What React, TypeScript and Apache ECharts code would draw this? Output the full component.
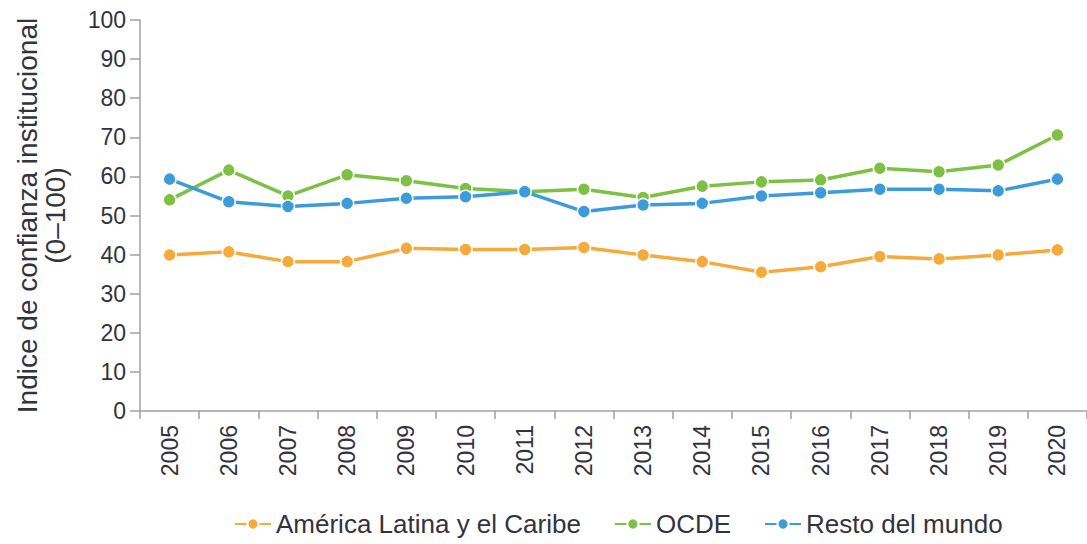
import React, { useEffect, useRef } from "react";
import * as echarts from "echarts";

const years = ["2005","2006","2007","2008","2009","2010","2011","2012","2013","2014","2015","2016","2017","2018","2019","2020"];
const latam = [39.9, 40.7, 38.2, 38.2, 41.6, 41.3, 41.3, 41.8, 39.9, 38.2, 35.5, 36.9, 39.5, 38.9, 39.9, 41.2];
const ocde = [54.0, 61.6, 55.0, 60.4, 58.9, 56.9, 56.1, 56.7, 54.6, 57.5, 58.6, 59.1, 62.1, 61.2, 62.9, 70.6];
const resto = [59.3, 53.5, 52.3, 53.1, 54.4, 54.8, 56.1, 51.0, 52.7, 53.1, 55.0, 55.8, 56.7, 56.7, 56.3, 59.3];
const seriesNames = ["América Latina y el Caribe", "OCDE", "Resto del mundo"];
const colors = ["#F5AA3B", "#7CC143", "#3B9BDB"];

const FONT = "'Liberation Sans', Arial, sans-serif";
const TXT = "#333340";

export default function App() {
  const ref = useRef<HTMLDivElement>(null);
  useEffect(() => {
    if (!ref.current) return;
    const chart = echarts.init(ref.current, null, { renderer: "svg" });
    const mk = (name: string, data: number[], color: string, z: number) => ({
      name,
      type: "line",
      data,
      z,
      symbol: "circle",
      symbolSize: 13,
      lineStyle: { color, width: 3.5 },
      itemStyle: { color, borderColor: "#fff", borderWidth: 1.5 },
    });
    chart.setOption({
      animation: false,
      textStyle: { fontFamily: FONT },
      grid: { left: 140, top: 20, bottom: 133, width: 952 },
      legend: {
        bottom: 2,
        left: 229,
        itemGap: 33,
        itemWidth: 36,
        itemHeight: 14,
        textStyle: { fontFamily: FONT, fontSize: 26, color: TXT },
        data: seriesNames,
      },
      xAxis: {
        type: "category",
        data: years,
        boundaryGap: true,
        axisLine: { lineStyle: { color: "#a0a0a0", width: 1.5 } },
        axisTick: { show: true, length: 8, lineStyle: { color: "#a0a0a0", width: 1.5 } },
        axisLabel: { rotate: 90, fontSize: 23, color: TXT, fontFamily: FONT, margin: 14 },
      },
      yAxis: {
        type: "value",
        min: 0,
        max: 100,
        interval: 10,
        splitLine: { show: false },
        axisLine: { show: true, lineStyle: { color: "#a0a0a0", width: 1.5 } },
        axisTick: { show: true, length: 10, lineStyle: { color: "#a0a0a0", width: 1.5 } },
        axisLabel: { fontSize: 23, color: TXT, fontFamily: FONT, margin: 14 },
        name: "Indice de confianza institucional\n(0–100)",
        nameLocation: "middle",
        nameGap: 71,
        nameTextStyle: { fontSize: 28, color: TXT, fontFamily: FONT, lineHeight: 28 },
      },
      series: [
        mk(seriesNames[0], latam, colors[0], 2),
        mk(seriesNames[1], ocde, colors[1], 3),
        mk(seriesNames[2], resto, colors[2], 4),
      ],
    });
    return () => chart.dispose();
  }, []);
  return <div ref={ref} style={{ width: 1087, height: 544, position: "absolute", left: 0, top: 0 }} />;
}
